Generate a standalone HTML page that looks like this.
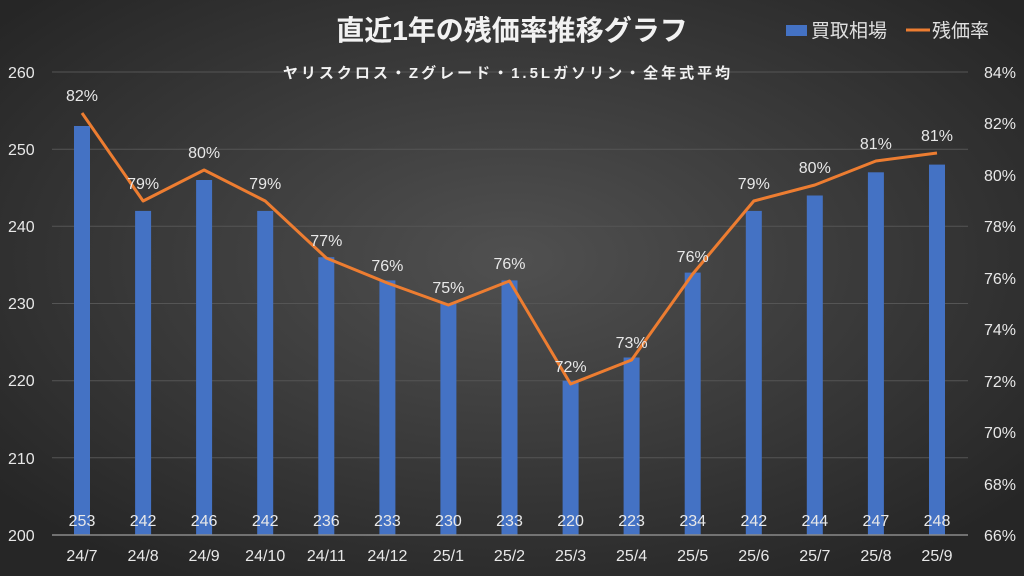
<!DOCTYPE html>
<html><head><meta charset="utf-8"><style>
html,body{margin:0;padding:0;background:#333}
svg{display:block}
text{font-family:"Liberation Sans","Noto Sans CJK JP",sans-serif}
</style></head><body>
<svg width="1024" height="576" xmlns="http://www.w3.org/2000/svg">
<defs><radialGradient id="g" cx="50%" cy="45%" r="65%"><stop offset="0" stop-color="#505050"/><stop offset="1" stop-color="#262626"/></radialGradient></defs>
<rect width="1024" height="576" fill="url(#g)"/>
<g stroke="#555" stroke-width="1">
<line x1="52" x2="968" y1="72" y2="72"/><line x1="52" x2="968" y1="149.2" y2="149.2"/><line x1="52" x2="968" y1="226.3" y2="226.3"/><line x1="52" x2="968" y1="303.5" y2="303.5"/><line x1="52" x2="968" y1="380.7" y2="380.7"/><line x1="52" x2="968" y1="457.8" y2="457.8"/>
</g>
<g fill="#4472c4">
<rect x="74" y="126" width="16" height="409"/>
<rect x="135.1" y="210.9" width="16" height="324.1"/>
<rect x="196.1" y="180" width="16" height="355"/>
<rect x="257.2" y="210.9" width="16" height="324.1"/>
<rect x="318.3" y="257.2" width="16" height="277.8"/>
<rect x="379.4" y="280.4" width="16" height="254.6"/>
<rect x="440.4" y="303.5" width="16" height="231.5"/>
<rect x="501.5" y="280.4" width="16" height="254.6"/>
<rect x="562.6" y="380.7" width="16" height="154.3"/>
<rect x="623.6" y="357.5" width="16" height="177.5"/>
<rect x="684.7" y="272.6" width="16" height="262.4"/>
<rect x="745.8" y="210.9" width="16" height="324.1"/>
<rect x="806.8" y="195.5" width="16" height="339.5"/>
<rect x="867.9" y="172.3" width="16" height="362.7"/>
<rect x="929" y="164.6" width="16" height="370.4"/>
</g>
<line x1="52" x2="968" y1="535" y2="535" stroke="#8a8a8a" stroke-width="1.5"/>
<polyline fill="none" stroke="#ed7d31" stroke-width="3" stroke-linejoin="round" points="82,113 143.1,201 204.1,170 265.2,201 326.3,258 387.4,283 448.4,305 509.5,281 570.6,384 631.6,360 692.7,274 753.8,201 814.8,185 875.9,161 937,153"/>
<g fill="#e8e8e8" font-size="16">
<text x="8" y="78">260</text><text x="8" y="155">250</text><text x="8" y="232">240</text><text x="8" y="309">230</text><text x="8" y="386">220</text><text x="8" y="464">210</text><text x="8" y="541">200</text>
<text x="984" y="78">84%</text><text x="984" y="129">82%</text><text x="984" y="181">80%</text><text x="984" y="232">78%</text><text x="984" y="284">76%</text><text x="984" y="335">74%</text><text x="984" y="387">72%</text><text x="984" y="438">70%</text><text x="984" y="490">68%</text><text x="984" y="541">66%</text>
</g>
<g fill="#e8e8e8" font-size="16" text-anchor="middle">
<text x="82" y="526">253</text><text x="143.1" y="526">242</text><text x="204.1" y="526">246</text><text x="265.2" y="526">242</text><text x="326.3" y="526">236</text><text x="387.4" y="526">233</text><text x="448.4" y="526">230</text><text x="509.5" y="526">233</text><text x="570.6" y="526">220</text><text x="631.6" y="526">223</text><text x="692.7" y="526">234</text><text x="753.8" y="526">242</text><text x="814.8" y="526">244</text><text x="875.9" y="526">247</text><text x="937" y="526">248</text>
<text x="82" y="561">24/7</text><text x="143.1" y="561">24/8</text><text x="204.1" y="561">24/9</text><text x="265.2" y="561">24/10</text><text x="326.3" y="561">24/11</text><text x="387.4" y="561">24/12</text><text x="448.4" y="561">25/1</text><text x="509.5" y="561">25/2</text><text x="570.6" y="561">25/3</text><text x="631.6" y="561">25/4</text><text x="692.7" y="561">25/5</text><text x="753.8" y="561">25/6</text><text x="814.8" y="561">25/7</text><text x="875.9" y="561">25/8</text><text x="937" y="561">25/9</text>
<text x="82" y="101">82%</text><text x="143.1" y="189">79%</text><text x="204.1" y="158">80%</text><text x="265.2" y="189">79%</text><text x="326.3" y="246">77%</text><text x="387.4" y="271">76%</text><text x="448.4" y="293">75%</text><text x="509.5" y="269">76%</text><text x="570.6" y="372">72%</text><text x="631.6" y="348">73%</text><text x="692.7" y="262">76%</text><text x="753.8" y="189">79%</text><text x="814.8" y="173">80%</text><text x="875.9" y="149">81%</text><text x="937" y="141">81%</text>
</g>
<text x="512" y="40" text-anchor="middle" fill="#f2f2f2" font-size="28" font-weight="bold">直近1年の残価率推移グラフ</text>
<text x="508" y="78" text-anchor="middle" fill="#f2f2f2" font-size="15" font-weight="bold" letter-spacing="3">ヤリスクロス・Zグレード・1.5Lガソリン・全年式平均</text>
<rect x="786" y="25" width="21" height="11" fill="#4472c4"/>
<text x="811" y="37" fill="#e0e0e0" font-size="19">買取相場</text>
<line x1="906" y1="30" x2="930" y2="30" stroke="#ed7d31" stroke-width="3"/>
<text x="932" y="37" fill="#e0e0e0" font-size="19">残価率</text>
</svg>
</body></html>
